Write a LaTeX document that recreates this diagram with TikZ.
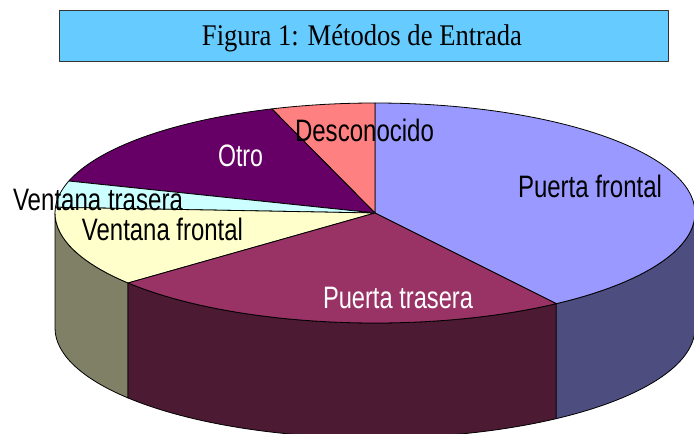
\documentclass[tikz,border=0pt]{standalone}
\usepackage{fontspec}
\newfontfamily\lblfont{Liberation Sans}
\newfontfamily\ttlfont{Liberation Serif}
\usetikzlibrary{calc}
\definecolor{cPF}{HTML}{9999FF}
\definecolor{cPT}{HTML}{993366}
\definecolor{cVF}{HTML}{FFFFCC}
\definecolor{cVT}{HTML}{CCFFFF}
\definecolor{cOT}{HTML}{660066}
\definecolor{cDE}{HTML}{FF8080}
\definecolor{sPF}{HTML}{4D4D80}
\definecolor{sPT}{HTML}{4D1A33}
\definecolor{sVF}{HTML}{808066}
\definecolor{cTitle}{HTML}{66CCFF}
\newcommand\pieslicetop[3]{%
  \filldraw[fill=#1] (C) -- ($(C)+(#2:320pt and 110pt)$)
    arc[start angle=#2,end angle=#3,x radius=320pt,y radius=110pt] -- cycle;}
\newcommand\pieside[3]{%
  \filldraw[fill=#1] ($(C)+(#2:320pt and 110pt)$)
    arc[start angle=#2,end angle=#3,x radius=320pt,y radius=110pt]
    -- ++(0pt,-115pt)
    arc[start angle=#3,end angle=#2,x radius=320pt,y radius=110pt] -- cycle;}
\begin{document}
\begin{tikzpicture}[x=1pt,y=1pt,line width=0.8pt,line join=round,
  lbl/.style={font=\lblfont\fontsize{31}{31}\selectfont,inner sep=0pt},
  titlebox/.style={draw=black!80,fill=cTitle,line width=1pt,minimum width=609pt,minimum height=51pt,inner sep=0pt}]
\useasboundingbox (0,0) rectangle (694,-434);
% title
\node[titlebox] (title) at (363.5,-35.5) {};
\node[anchor=base,inner sep=0pt,font=\ttlfont\fontsize{30}{30}\selectfont] (titletext) at (362,-45)
  {\resizebox{320pt}{\height}{Figura 1: Métodos de Entrada}};
% pie
\coordinate (C) at (375,-213);
\pieside{sVF}{180}{219.5}
\pieside{sPT}{219.5}{304.5}
\pieside{sPF}{304.5}{360}
\pieslicetop{cPF}{-55.5}{90}
\pieslicetop{cDE}{90}{108.8}
\pieslicetop{cOT}{108.8}{163.1}
\pieslicetop{cVT}{163.1}{177}
\pieslicetop{cVF}{177}{219.5}
\pieslicetop{cPT}{219.5}{304.5}
% labels
\node[lbl] (lPF) at (590,-186) {\resizebox{144pt}{\height}{Puerta frontal}};
\node[lbl] (lDE) at (364.5,-130) {\resizebox{139pt}{\height}{Desconocido}};
\node[lbl,text=white] (lOT) at (240.5,-156) {\resizebox{45pt}{\height}{Otro}};
\node[lbl] (lVT) at (98,-200) {\resizebox{170pt}{\height}{Ventana trasera}};
\node[lbl] (lVF) at (162.5,-229) {\resizebox{161pt}{\height}{Ventana frontal}};
\node[lbl,text=white] (lPT) at (398,-298) {\resizebox{150pt}{\height}{Puerta trasera}};
\end{tikzpicture}
\end{document}
